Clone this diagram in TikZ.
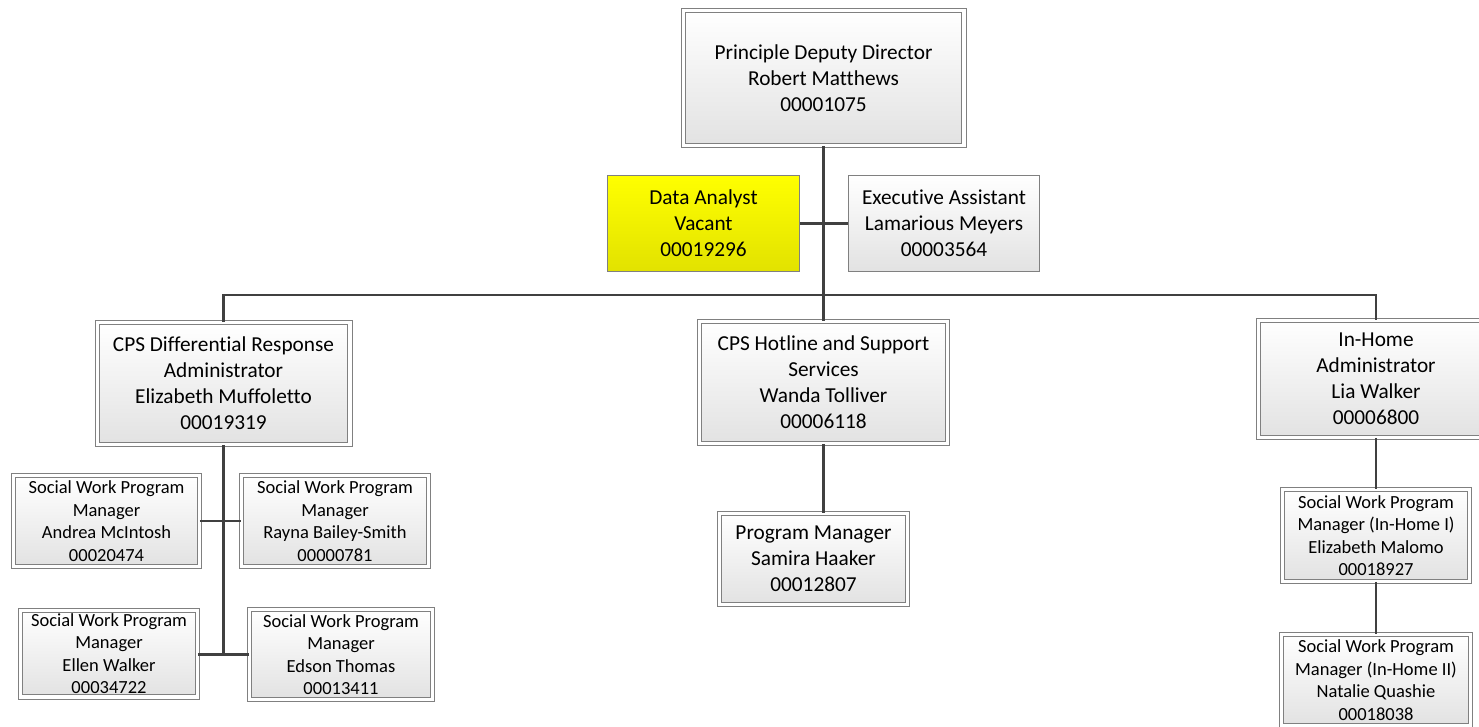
\documentclass[tikz,border=0pt]{standalone}
\usepackage{fontspec}
\setmainfont[Ligatures=NoCommon]{Carlito}
\newcommand{\bigf}{\fontsize{21.3}{26}\selectfont}
\newcommand{\smallf}{\fontsize{18.5}{22.5}\selectfont}
\definecolor{bordergray}{RGB}{128,128,128}
\definecolor{linegray}{RGB}{64,64,64}
\definecolor{fillbot}{RGB}{226,226,226}
\definecolor{ytop}{RGB}{255,255,0}
\definecolor{ybot}{RGB}{226,226,0}
\tikzset{
  dbox/.style={draw=bordergray, line width=1pt, double=white, double distance=3.4pt,
    top color=white, bottom color=fillbot, align=center, inner sep=0pt, font=\bigf},
  sdbox/.style={dbox, font=\smallf},
  sbox/.style={draw=bordergray, line width=1pt, top color=white, bottom color=fillbot,
    align=center, inner sep=0pt, font=\bigf},
  ybox/.style={sbox, top color=ytop, bottom color=ybot},
  conn/.style={draw=linegray, line width=2.6pt}
}
\begin{document}
\begin{tikzpicture}[x=1pt,y=-1pt]
\useasboundingbox (0,0) rectangle (1479,726);
\clip (0,0) rectangle (1479,726);
\fill[white] (0,0) rectangle (1479,726);
\coordinate (busy) at (823.5,295);
% nodes
\node[dbox, minimum width=280.6pt, minimum height=134.6pt] (top) at (823.5,78) {Principle Deputy Director\\Robert Matthews\\00001075};
\node[ybox, minimum width=192pt, minimum height=96pt] (data) at (703.5,223.5) {Data Analyst\\Vacant\\00019296};
\node[sbox, minimum width=191pt, minimum height=96pt] (exec) at (944,223.5) {Executive Assistant\\Lamarious Meyers\\00003564};
\node[dbox, minimum width=252.6pt, minimum height=121.6pt] (cpsdr) at (223.5,383.5) {CPS Differential Response\\Administrator\\Elizabeth Muffoletto\\00019319};
\node[dbox, minimum width=247.6pt, minimum height=121.6pt] (hotline) at (823.5,382.5) {CPS Hotline and Support\\Services\\Wanda Tolliver\\00006118};
\node[dbox, minimum width=234.6pt, minimum height=116.6pt] (inhome) at (1376,379) {In-Home\\Administrator\\Lia Walker\\00006800};
\node[sdbox, minimum width=185.6pt, minimum height=90.6pt] (andrea) at (106.5,521) {Social Work Program\\Manager\\Andrea McIntosh\\00020474};
\node[sdbox, minimum width=186.6pt, minimum height=90.6pt] (rayna) at (335,521) {Social Work Program\\Manager\\Rayna Bailey-Smith\\00000781};
\node[sdbox, minimum width=176.6pt, minimum height=86.6pt] (ellen) at (109,653.5) {Social Work Program\\Manager\\Ellen Walker\\00034722};
\node[sdbox, minimum width=182.6pt, minimum height=89.6pt] (edson) at (341,654.5) {Social Work Program\\Manager\\Edson Thomas\\00013411};
\node[dbox, minimum width=187.6pt, minimum height=90.6pt] (samira) at (813.5,559) {Program Manager\\Samira Haaker\\00012807};
\node[sdbox, minimum width=186.6pt, minimum height=91.6pt] (malomo) at (1376,535.5) {Social Work Program\\Manager (In-Home I)\\Elizabeth Malomo\\00018927};
\node[sdbox, minimum width=188.6pt, minimum height=90.6pt] (natalie) at (1376,680) {Social Work Program\\Manager (In-Home II)\\Natalie Quashie\\00018038};
% connectors
\draw[conn] (top.south) -- (hotline.north);
\draw[conn] (data.east) -- (exec.west);
\draw[conn] (cpsdr.north) |- (busy) -| (inhome.north);
\draw[conn] (cpsdr.south) -- (cpsdr.south |- edson.west);
\draw[conn] (andrea.east) -- (rayna.west);
\draw[conn] (ellen.east |- edson.west) -- (edson.west);
\draw[conn] (hotline.south) -- (hotline.south |- samira.north);
\draw[conn] (inhome.south) -- (malomo.north);
\draw[conn] (malomo.south) -- (natalie.north);
\end{tikzpicture}
\end{document}
